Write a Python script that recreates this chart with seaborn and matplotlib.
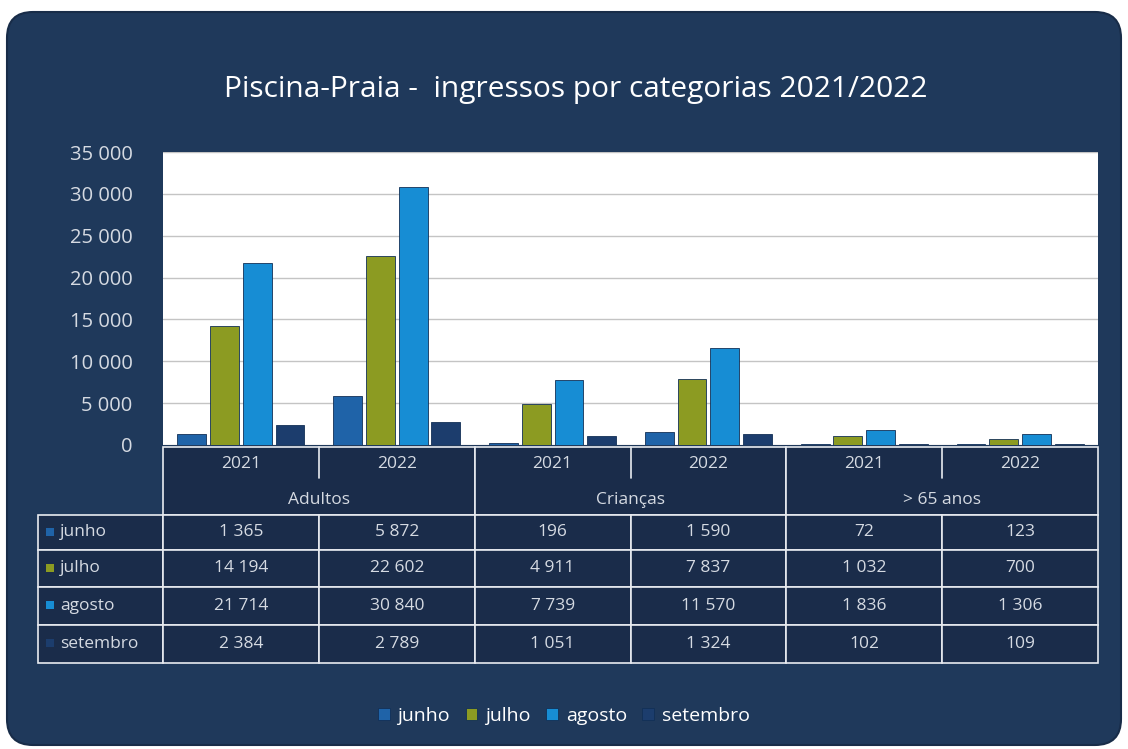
import numpy as np
import pandas as pd
import matplotlib.pyplot as plt
import seaborn as sns
from matplotlib.patches import FancyBboxPatch, Rectangle
from matplotlib.ticker import FuncFormatter

categorias = ["Adultos", "Crianças", "> 65 anos"]
anos = ["2021", "2022"]
meses = ["junho", "julho", "agosto", "setembro"]
junho = [1365, 5872, 196, 1590, 72, 123]
julho = [14194, 22602, 4911, 7837, 1032, 700]
agosto = [21714, 30840, 7739, 11570, 1836, 1306]
setembro = [2384, 2789, 1051, 1324, 102, 109]
y_ticks = [0, 5000, 10000, 15000, 20000, 25000, 30000, 35000]

cores = ["#1f63a8", "#8c9b22", "#178dd4", "#1c3d6d"]
fundo = "#1f395b"
celula = "#1a2c4a"
linha = "#e8ebf0"
texto = "#d5dae2"

sns.set_theme(style="white")
plt.rcParams['font.family'] = ['Open Sans', 'DejaVu Sans']

grupos = [f"{c} {a}" for c in categorias for a in anos]
valores = [junho, julho, agosto, setembro]
df = pd.DataFrame({
    "grupo": np.repeat([grupos], 4, axis=0).ravel(),
    "mes": np.repeat(meses, len(grupos)),
    "valor": np.concatenate(valores),
})

fmt = lambda v: f"{v:,.0f}".replace(",", " ")

W, H = 1128, 749
fig = plt.figure(figsize=(W / 100, H / 100), dpi=100)
fig.patch.set_facecolor("white")

# fundo (coordenadas em pixels)
bg = fig.add_axes([0, 0, 1, 1], zorder=0)
bg.set_xlim(0, W)
bg.set_ylim(H, 0)
bg.axis("off")
bg.add_patch(FancyBboxPatch((7, 12), W - 14, H - 16, boxstyle="round,pad=0,rounding_size=26",
                            fc=fundo, ec="#182c48", lw=1.5))
bg.text(W / 2 + 12, 90, "Piscina-Praia -  ingressos por categorias 2021/2022",
        color="white", fontsize=21.5, ha="center", va="center")

# gráfico de barras
x0, x1, ytop, ybot = 163, 1098, 152, 445
ax = fig.add_axes([x0 / W, 1 - ybot / H, (x1 - x0) / W, (ybot - ytop) / H], zorder=1)
sns.barplot(data=df, x="grupo", y="valor", hue="mes", order=grupos, hue_order=meses,
            palette=cores, saturation=1, width=0.84, gap=0.12, edgecolor="#123056",
            linewidth=0.6, ax=ax, zorder=3)
ax.set_facecolor("white")
ax.set_ylim(0, 35000)
ax.set_yticks(y_ticks)
ax.yaxis.set_major_formatter(FuncFormatter(lambda v, p: fmt(v)))
ax.tick_params(axis="y", colors=texto, labelsize=14.5, pad=22, length=0)
ax.set_xticks([])
ax.set_xlabel("")
ax.set_ylabel("")
ax.grid(axis="y", color="#c4c4c4", lw=1, zorder=0)
for s in ax.spines.values():
    s.set_visible(False)
handles, labels = ax.get_legend_handles_labels()
ax.legend_.remove()

# tabela de dados
col = np.linspace(x0, x1, len(grupos) + 1)
hy0, hy1 = 447, 515
rows = [515, 550, 587, 625, 663]
for i, c in enumerate(categorias):
    xa, xb = col[2 * i], col[2 * i + 2]
    bg.add_patch(Rectangle((xa, hy0), xb - xa, hy1 - hy0, fc=celula, ec=linha, lw=1.2))
    bg.plot([col[2 * i + 1]] * 2, [hy0, 478], color=linha, lw=1.2)
    bg.text((xa + xb) / 2, 500, c, color=texto, fontsize=12.5, ha="center", va="center")
    for j, a in enumerate(anos):
        bg.text((col[2 * i + j] + col[2 * i + j + 1]) / 2, 464, a, color=texto,
                fontsize=12.5, ha="center", va="center")

for r, (m, vals) in enumerate(zip(meses, valores)):
    ya, yb = rows[r], rows[r + 1]
    bg.add_patch(Rectangle((38, ya), x0 - 38, yb - ya, fc=celula, ec=linha, lw=1.2))
    bg.add_patch(Rectangle((46, (ya + yb) / 2 - 5), 8, 8, fc=cores[r], ec="none"))
    bg.text(60, (ya + yb) / 2, m, color=texto, fontsize=12.5, ha="left", va="center")
    for k, v in enumerate(vals):
        bg.add_patch(Rectangle((col[k], ya), col[k + 1] - col[k], yb - ya, fc=celula, ec=linha, lw=1.2))
        bg.text((col[k] + col[k + 1]) / 2, (ya + yb) / 2, fmt(v), color=texto,
                fontsize=12.5, ha="center", va="center")

leg = fig.legend(handles, labels, loc="center", bbox_to_anchor=(0.5, 1 - 716 / H), ncol=4,
                 frameon=False, fontsize=14, handlelength=0.6, handleheight=0.6,
                 handletextpad=0.4, columnspacing=0.8)
for t in leg.get_texts():
    t.set_color("white")

fig.savefig("out.png", dpi=100, facecolor="white")
